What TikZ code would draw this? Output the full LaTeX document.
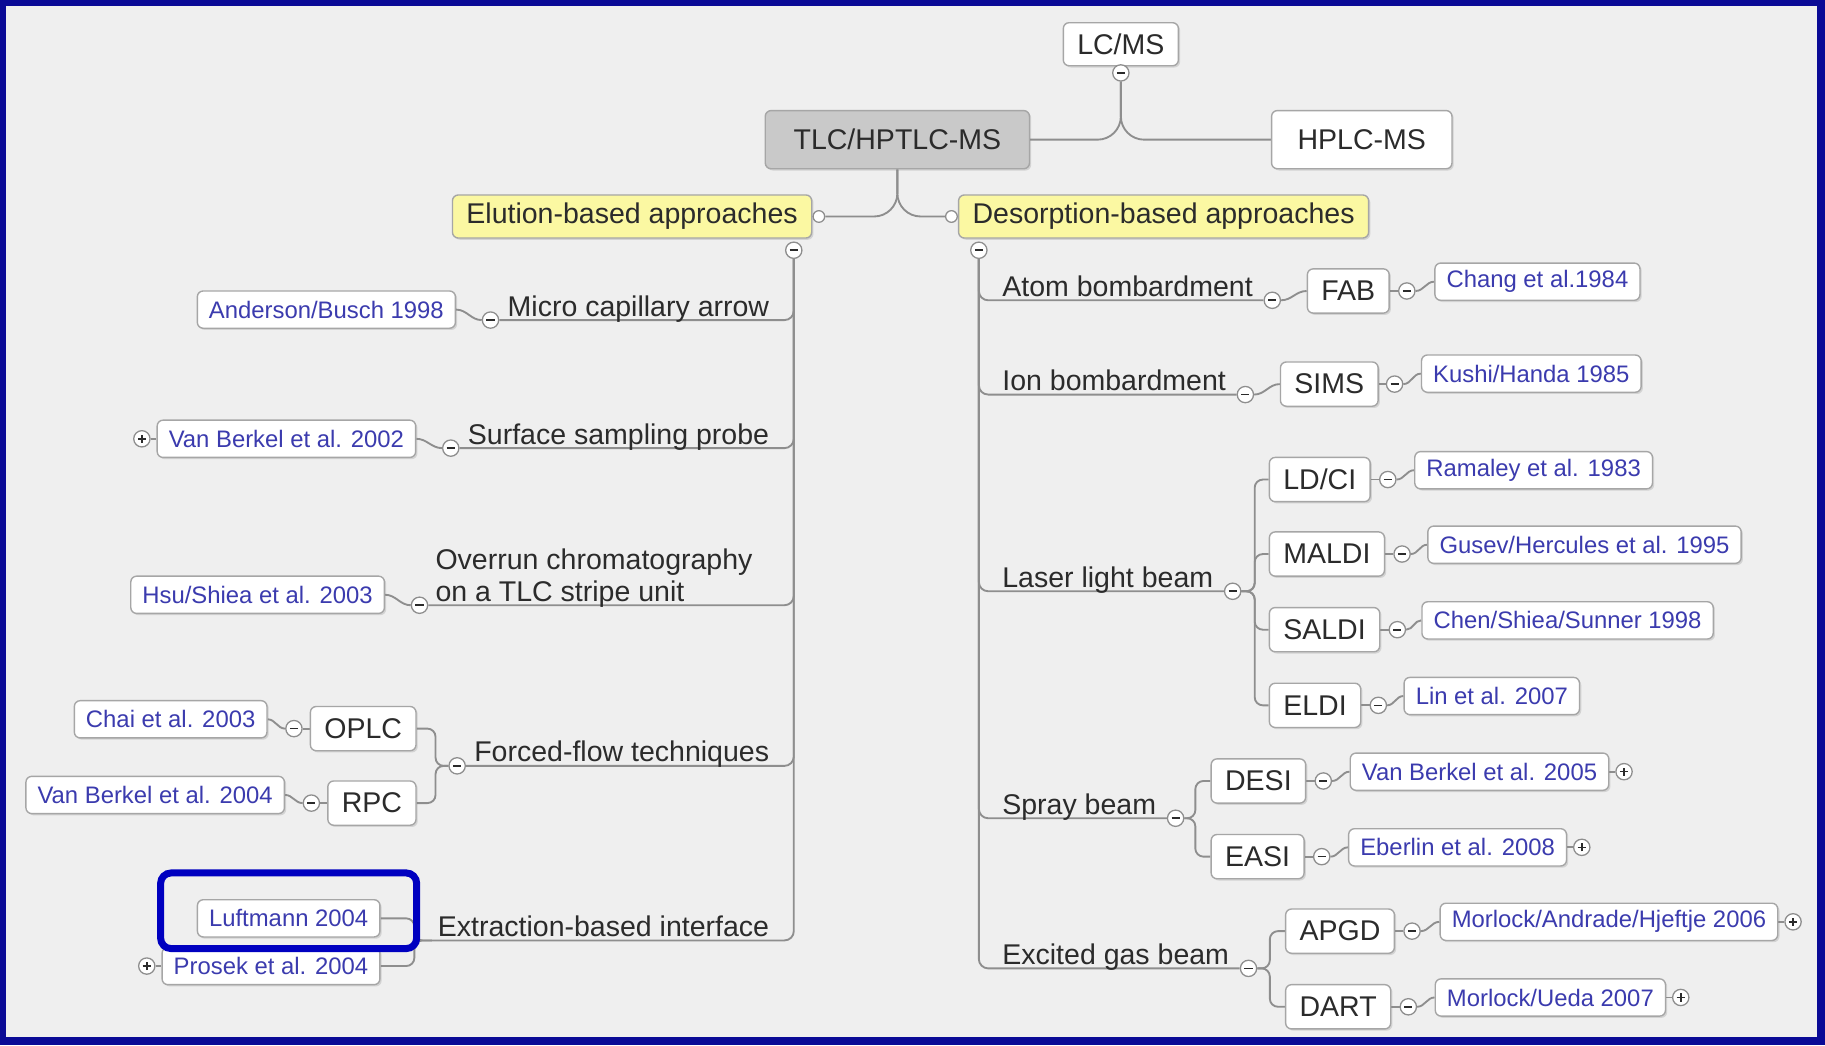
\documentclass[tikz,border=0pt]{standalone}
\usepackage{fontspec}
\setmainfont{Liberation Sans}
\usetikzlibrary{positioning, shadows, backgrounds}
\definecolor{frameBlue}{HTML}{0A0A96}
\definecolor{hiliteBlue}{HTML}{0000C0}
\definecolor{paperGray}{HTML}{EFEFEF}
\definecolor{lineGray}{HTML}{8E8E8E}
\definecolor{boxGray}{HTML}{A6A6A6}
\definecolor{rootGray}{HTML}{C9C9C9}
\definecolor{noteYellow}{HTML}{FBF8A2}
\definecolor{citeBlue}{HTML}{3B3BAE}
\definecolor{inkDark}{HTML}{2B2B2B}
\newcommand{\labsize}{\fontsize{24.5}{27}\selectfont}
\newcommand{\refsize}{\fontsize{20.5}{24}\selectfont}

\begin{document}
\begin{tikzpicture}[
    x=1pt, y=-1pt,
    link/.style={draw=lineGray, line width=1.6pt},
    topic/.style={rectangle, rounded corners=5pt, draw=boxGray, fill=white,
                  line width=1.2pt, font=\labsize, text=inkDark,
                  inner xsep=12pt, minimum height=38pt,
                  drop shadow={shadow xshift=1.5pt, shadow yshift=-1.5pt, opacity=0.25}},
    citebox/.style={topic, font=\refsize, text=citeBlue, inner xsep=10pt, minimum height=32pt},
    branch/.style={font=\labsize, text=inkDark, inner sep=1pt, text depth=0.22em, align=left},
    toggle/.style={circle, draw=lineGray, fill=white, line width=1.1pt,
                   minimum size=14pt, inner sep=0pt},
    togminus/.style={toggle, path picture={
        \draw[inkDark, line width=1.4pt]
          ([xshift=-3.5pt]path picture bounding box.center) -- ([xshift=3.5pt]path picture bounding box.center);}},
    togplus/.style={toggle, path picture={
        \draw[inkDark, line width=1.4pt]
          ([xshift=-3.5pt]path picture bounding box.center) -- ([xshift=3.5pt]path picture bounding box.center)
          ([yshift=-3.5pt]path picture bounding box.center) -- ([yshift=3.5pt]path picture bounding box.center);}},
    knob/.style={toggle, minimum size=10pt},
  ]
  \useasboundingbox (0,0) rectangle (1568,898);
  \begin{scope}[on background layer]
    \fill[frameBlue] (0,0) rectangle (1568,898);
    \fill[paperGray] (5,5) rectangle (1561,891);
  \end{scope}

  % centre and top
  \node[topic, fill=rootGray, minimum width=227pt, minimum height=50pt] (root) at (771,120) {TLC/HPTLC-MS};
  \node[topic, minimum height=37pt] (lcms) at (963,38) {LC/MS};
  \node[togminus, below=-2pt of lcms] (tlcms) {};
  \node[topic, minimum width=155pt, minimum height=50pt] (hplc) at (1170,120) {HPLC-MS};
  \node[topic, fill=noteYellow, minimum height=37pt, anchor=east] (elu) at (698,186) {Elution-based approaches};
  \node[topic, fill=noteYellow, minimum height=37pt, anchor=west] (des) at (823,186) {Desorption-based approaches};
  \node[knob, right=0pt of elu] (kelu) {};
  \node[knob, left=0pt of des] (kdes) {};
  \node[togminus] (telu) at (682,215) {};
  \node[togminus] (tdes) at (841,215) {};

  % elution side
  \node[branch, anchor=south east] (mca) at (662,275) {Micro capillary arrow};
  \node[togminus, left=6pt of mca.south west] (tmca) {};
  \node[citebox, left=22pt of tmca, yshift=9pt] (andb) {Anderson/Busch 1998};

  \node[branch, anchor=south east] (ssp) at (662,385) {Surface sampling probe};
  \node[togminus, left=6pt of ssp.south west] (tssp) {};
  \node[citebox, left=22pt of tssp, yshift=8pt] (vb02) {Van Berkel et al. 2002};
  \node[togplus, left=5pt of vb02] (pvb02) {};

  \node[branch, anchor=south west] (orc) at (373,520) {Overrun chromatography\\on a TLC stripe unit};
  \node[togminus, left=5pt of orc.south west] (torc) {};
  \node[citebox, left=22pt of torc, yshift=9pt] (hsu) {Hsu/Shiea et al. 2003};

  \node[branch, anchor=south east] (ffl) at (662,658) {Forced-flow techniques};
  \node[togminus, left=6pt of ffl.south west] (tffl) {};
  \coordinate[left=11pt of tffl.west] (fffl);
  \node[topic, anchor=east] (oplc) at (358,626) {OPLC};
  \node[topic, anchor=east] (rpc) at (358,690) {RPC};
  \node[togminus, left=6pt of oplc] (toplc) {};
  \node[citebox, left=15pt of toplc, yshift=8pt] (chai) {Chai et al. 2003};
  \node[togminus, left=6pt of rpc] (trpc) {};
  \node[citebox, left=15pt of trpc, yshift=7pt] (vb04) {Van Berkel et al. 2004};

  \node[branch, anchor=south east] (ebi) at (662,808) {Extraction-based interface};
  \coordinate[left=4pt of ebi.south west] (cebi);
  \coordinate[left=15pt of cebi] (febi);
  \node[citebox, anchor=east] (luft) at (327,789) {Luftmann 2004};
  \node[citebox, anchor=east] (pros) at (327,830) {Prosek et al. 2004};
  \node[togplus, left=5pt of pros] (ppros) {};

  % desorption side
  \node[branch, anchor=south west] (atb) at (860,258) {Atom bombardment};
  \node[togminus, right=8pt of atb.south east] (tatb) {};
  \node[topic, right=22pt of tatb, yshift=8pt] (fab) {FAB};
  \node[togminus, right=7pt of fab] (tfab) {};
  \node[citebox, right=16pt of tfab, yshift=8pt] (chang) {Chang et al.1984};

  \node[branch, anchor=south west] (ibm) at (860,339) {Ion bombardment};
  \node[togminus, right=8pt of ibm.south east] (tibm) {};
  \node[topic, right=22pt of tibm, yshift=9pt] (sims) {SIMS};
  \node[togminus, right=6pt of sims] (tsims) {};
  \node[citebox, right=15pt of tsims, yshift=9pt] (kushi) {Kushi/Handa 1985};

  \node[branch, anchor=south west] (llb) at (860,508) {Laser light beam};
  \node[togminus, right=8pt of llb.south east] (tllb) {};
  \coordinate (fllb) at (1078,508);
  \node[topic, anchor=west] (ldci) at (1090,412) {LD/CI};
  \node[topic, anchor=west] (maldi) at (1090,476) {MALDI};
  \node[topic, anchor=west] (saldi) at (1090,541) {SALDI};
  \node[topic, anchor=west] (eldi) at (1090,606) {ELDI};
  \node[togminus, right=7pt of ldci] (tldci) {};
  \node[togminus, right=7pt of maldi] (tmaldi) {};
  \node[togminus, right=7pt of saldi] (tsaldi) {};
  \node[togminus, right=7pt of eldi] (teldi) {};
  \node[citebox, right=15pt of tldci, yshift=8pt] (rama) {Ramaley et al. 1983};
  \node[citebox, right=14pt of tmaldi, yshift=8pt] (gusev) {Gusev/Hercules et al. 1995};
  \node[citebox, right=13pt of tsaldi, yshift=8pt] (chen) {Chen/Shiea/Sunner 1998};
  \node[citebox, right=14pt of teldi, yshift=8pt] (lin) {Lin et al. 2007};

  \node[branch, anchor=south west] (spb) at (860,703) {Spray beam};
  \node[togminus, right=8pt of spb.south east] (tspb) {};
  \coordinate (fspb) at (1027,703);
  \node[topic, anchor=west] (desi) at (1040,671) {DESI};
  \node[topic, anchor=west] (easi) at (1040,736) {EASI};
  \node[togminus, right=7pt of desi] (tdesi) {};
  \node[togminus, right=7pt of easi] (teasi) {};
  \node[citebox, right=15pt of tdesi, yshift=8pt] (vb05) {Van Berkel et al. 2005};
  \node[citebox, right=15pt of teasi, yshift=8pt] (eber) {Eberlin et al. 2008};
  \node[togplus, right=5pt of vb05] (pvb05) {};
  \node[togplus, right=5pt of eber] (peber) {};

  \node[branch, anchor=south west] (egb) at (860,832) {Excited gas beam};
  \node[togminus, right=8pt of egb.south east] (tegb) {};
  \coordinate (fegb) at (1091,832);
  \node[topic, anchor=west] (apgd) at (1104,800) {APGD};
  \node[topic, anchor=west] (dart) at (1104,865) {DART};
  \node[togminus, right=7pt of apgd] (tapgd) {};
  \node[togminus, right=7pt of dart] (tdart) {};
  \node[citebox, right=16pt of tapgd, yshift=8pt] (mahj) {Morlock/Andrade/Hjeftje 2006};
  \node[citebox, right=15pt of tdart, yshift=8pt] (ueda) {Morlock/Ueda 2007};
  \node[togplus, right=5pt of mahj] (pmahj) {};
  \node[togplus, right=5pt of ueda] (pueda) {};

  % connectors
  \begin{scope}[on background layer]
    \draw[link, rounded corners=20pt] (root.east) -| (tlcms.south);
    \draw[link, rounded corners=20pt] (hplc.west) -| (tlcms.south);
    \draw[link, rounded corners=20pt] (kelu.east) -| (root.south);
    \draw[link, rounded corners=20pt] (kdes.west) -| (root.south);

    \foreach \t in {tmca,tssp,torc,tffl}
      \draw[link, rounded corners=8pt] (\t.east) -| (telu.south);
    \draw[link, rounded corners=8pt] (cebi) -| (telu.south);
    \foreach \t/\c in {tmca/andb, tssp/vb02, torc/hsu, toplc/chai, trpc/vb04}
      \draw[link] (\t.west) to[out=180,in=0] (\c.east);
    \draw[link] (pvb02.east) -- (vb02.west);
    \foreach \c/\t in {oplc/toplc, rpc/trpc} {
      \draw[link, rounded corners=7pt] (tffl.west) -- (fffl) |- (\c.east);
      \draw[link] (\t.east) -- (\c.west);
    }
    \foreach \c in {luft, pros}
      \draw[link, rounded corners=7pt] (cebi) -- (febi) |- (\c.east);
    \draw[link] (ppros.east) -- (pros.west);

    \foreach \t in {tatb,tibm,tllb,tspb,tegb}
      \draw[link, rounded corners=8pt] (\t.west) -| (tdes.south);
    \foreach \t/\c/\tc/\r in {tatb/fab/tfab/chang, tibm/sims/tsims/kushi} {
      \draw[link] (\t.east) to[out=0,in=180] (\c.west);
      \draw[link] (\c.east) -- (\tc.west);
      \draw[link] (\tc.east) to[out=0,in=180] (\r.west);
    }
    \foreach \p/\f/\c/\tc/\r in {tllb/fllb/ldci/tldci/rama, tllb/fllb/maldi/tmaldi/gusev,
        tllb/fllb/saldi/tsaldi/chen, tllb/fllb/eldi/teldi/lin,
        tspb/fspb/desi/tdesi/vb05, tspb/fspb/easi/teasi/eber,
        tegb/fegb/apgd/tapgd/mahj, tegb/fegb/dart/tdart/ueda} {
      \draw[link, rounded corners=7pt] (\p.east) -- (\f) |- (\c.west);
      \draw[link] (\c.east) -- (\tc.west);
      \draw[link] (\tc.east) to[out=0,in=180] (\r.west);
    }
    \foreach \c/\pc in {vb05/pvb05, eber/peber, mahj/pmahj, ueda/pueda}
      \draw[link] (\c.east) -- (\pc.west);
  \end{scope}

  % highlight
  \draw[hiliteBlue, line width=6pt, rounded corners=9pt] (138,750) rectangle (358,815);
\end{tikzpicture}
\end{document}
